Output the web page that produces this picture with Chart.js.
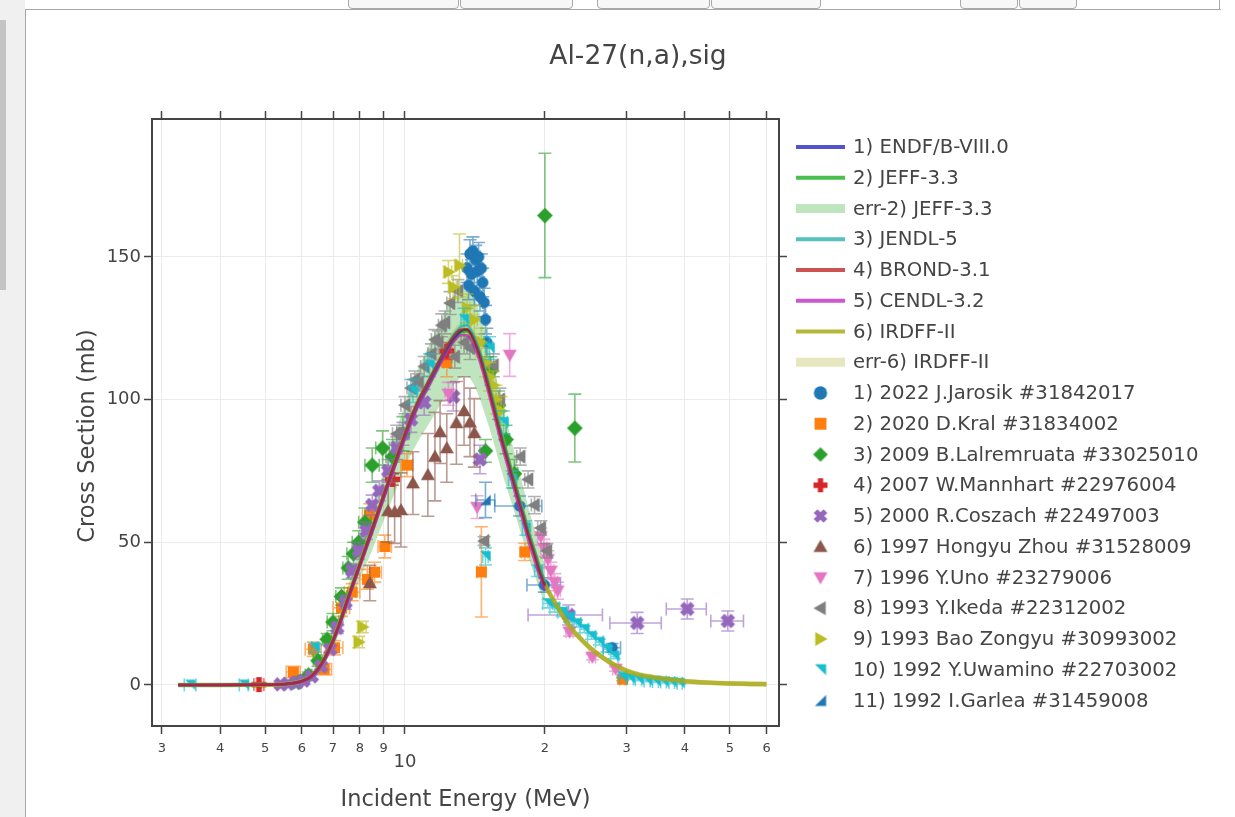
<!DOCTYPE html>
<html>
<head>
<meta charset="utf-8">
<title>Al-27(n,a),sig</title>
<script src="https://cdn.jsdelivr.net/npm/chart.js@4.4.1/dist/chart.umd.min.js"></script>
<style>
  html, body { margin: 0; padding: 0; width: 1235px; height: 817px; overflow: hidden; background: #fff; }
  #side { position: absolute; left: 0; top: 0; width: 25px; height: 817px; background: #f0f0f0; }
  #thumb { position: absolute; left: 0; top: 20px; width: 6px; height: 270px; background: #c4c4c4; }
  #panel { position: absolute; left: 25px; top: 9px; width: 1195px; height: 808px; border-left: 1px solid #a8a8a8; border-top: 1px solid #a8a8a8; background: #fff; }
  #rightEdge { position: absolute; left: 1219px; top: 0; width: 1px; height: 10px; background: #a8a8a8; }
  .btn { position: absolute; top: -14px; height: 21px; border: 1px solid #a8a8a8; border-radius: 4px; background: #f7f7f7; }
  #chart { position: absolute; left: 0; top: 0; }
</style>
</head>
<body>
<div id="side"><div id="thumb"></div></div>
<div id="panel"></div>
<div class="btn" style="left:348px;width:109px"></div>
<div class="btn" style="left:460px;width:111px"></div>
<div class="btn" style="left:597px;width:111px"></div>
<div class="btn" style="left:711px;width:108px"></div>
<div class="btn" style="left:960px;width:56px"></div>
<div class="btn" style="left:1019px;width:56px"></div>
<div id="rightEdge"></div>
<canvas id="chart" width="1235" height="817"></canvas>
<script>
// ---------------- evaluated libraries (E in MeV, cross section in mb) ----------------
const libE = [3.25, 4.0, 5.0, 5.5, 6.0, 6.3, 6.6, 6.9, 7.2, 7.5, 7.8, 8.1, 8.5, 8.9, 9.3, 9.7, 10.2, 10.7, 11.2, 11.7,
              12.2, 12.7, 13.2, 13.6, 14.0, 14.5, 15.0, 15.5, 16.0, 16.5, 17.0, 17.5, 18.0, 18.5, 19.0, 19.5, 20.0];
const endfSig  = [0, 0, 0.03, 0.25, 1.3, 3.0, 7.0, 13.0, 20.5, 29.0, 37.0, 44.5, 54.0, 63.5, 72.5, 81.0, 91.0, 99.0, 105.0, 111.0,
                  116.5, 121.0, 124.0, 124.5, 122.0, 115.5, 107.0, 98.0, 89.0, 81.0, 73.5, 66.0, 59.0, 52.0, 46.0, 40.0, 35.0];
const jeffSig  = [0, 0, 0.02, 0.2, 1.2, 2.8, 6.8, 12.8, 20.5, 29.2, 37.5, 45.0, 54.5, 64.0, 73.0, 81.5, 91.0, 98.5, 104.5, 110.5,
                  116.0, 120.5, 123.5, 124.0, 121.5, 115.0, 107.0, 98.5, 89.5, 81.5, 74.0, 66.5, 59.5, 52.5, 46.5, 40.5, 35.5];
const jeffErr  = [0, 0, 0.01, 0.05, 0.3, 0.6, 1.2, 2.0, 3.0, 4.0, 5.0, 6.0, 7.2, 8.4, 9.5, 10.5, 11.8, 12.8, 13.6, 14.4,
                  15.0, 15.5, 15.8, 15.8, 15.6, 15.0, 14.2, 13.3, 12.4, 11.6, 10.8, 10.0, 9.3, 8.6, 8.0, 7.4, 6.8];
const jendlSig = [0, 0, 0.03, 0.25, 1.4, 3.2, 7.2, 13.3, 21.0, 29.5, 37.5, 45.0, 54.5, 64.0, 73.0, 81.5, 91.5, 99.5, 106.0, 112.0,
                  117.5, 122.5, 125.5, 126.0, 123.0, 116.5, 108.0, 99.0, 90.0, 82.0, 74.5, 67.0, 60.0, 53.0, 47.0, 41.0, 36.0];
const brondSig = [0, 0, 0.03, 0.3, 1.4, 3.3, 7.4, 13.5, 21.0, 29.5, 37.5, 45.0, 55.0, 64.5, 73.5, 82.0, 92.0, 100.0, 106.0, 112.0,
                  117.5, 122.0, 124.5, 124.5, 121.5, 115.0, 106.5, 97.5, 88.5, 80.5, 73.0, 65.5, 58.5, 51.5, 45.5, 39.5, 34.5];
const cendlSig = [0, 0, 0.02, 0.2, 1.1, 2.7, 6.5, 12.5, 20.0, 28.5, 36.5, 44.0, 53.5, 63.0, 72.0, 80.5, 90.0, 98.0, 104.0, 110.0,
                  115.5, 120.0, 122.5, 122.5, 119.5, 113.0, 104.5, 95.5, 86.5, 78.5, 71.0, 63.5, 56.5, 49.5, 43.5, 38.0, 33.0];
const irdffE   = [3.25, 4.0, 5.0, 5.5, 6.0, 6.3, 6.6, 6.9, 7.2, 7.5, 7.8, 8.1, 8.5, 8.9, 9.3, 9.7, 10.2, 10.7, 11.2, 11.7,
                  12.2, 12.7, 13.2, 13.6, 14.0, 14.5, 15.0, 15.5, 16.0, 16.5, 17.0, 17.5, 18.0, 18.5, 19.0, 19.5, 20.0,
                  21, 22, 23, 24, 25, 26.5, 28, 30, 32, 35, 40, 45, 50, 55, 60];
const irdffSig = [0, 0, 0.03, 0.25, 1.3, 3.0, 7.0, 13.0, 20.7, 29.2, 37.3, 44.8, 54.3, 63.8, 72.8, 81.3, 91.2, 99.2, 105.2, 111.2,
                  116.7, 121.2, 124.0, 124.3, 121.8, 115.5, 107.2, 98.3, 89.5, 81.5, 74.0, 66.5, 59.5, 52.5, 46.5, 40.5, 35.2,
                  29.0, 23.5, 19.0, 15.8, 13.0, 9.8, 7.3, 4.9, 3.5, 2.4, 1.3, 0.8, 0.5, 0.35, 0.25];
const irdffErr = [0, 0, 0.01, 0.05, 0.15, 0.3, 0.5, 0.7, 0.9, 1.1, 1.3, 1.5, 1.7, 1.9, 2.1, 2.3, 2.5, 2.6, 2.7, 2.8,
                  2.9, 3.0, 3.0, 3.0, 3.0, 2.9, 2.7, 2.5, 2.3, 2.1, 1.9, 1.8, 1.7, 1.6, 1.5, 1.4, 1.4,
                  1.3, 1.3, 1.2, 1.2, 1.2, 1.1, 1.1, 1.0, 1.0, 1.0, 0.9, 0.9, 0.9, 0.9, 0.9];

// ---------------- EXFOR measurements: energy, cross section, dSig, dE ----------------
const jarosikE  = [13.6, 13.7, 13.8, 13.9, 14.0, 14.1, 14.2, 14.3, 14.4, 14.5, 14.6, 14.7, 14.8, 14.9, 15.0, 17.65, 19.95, 27.9];
const jarosikS  = [146, 140, 151, 144, 152, 138, 149, 145, 150, 136, 146, 141, 134, 128, 120, 62.7, 35.0, 13.0];
const jarosikDS = [5, 5, 5, 5, 5, 5, 5, 5, 5, 5, 5, 5, 5, 5, 5, 3.5, 2.5, 1.5];
const jarosikDE = [0.1, 0.1, 0.1, 0.1, 0.1, 0.1, 0.1, 0.1, 0.1, 0.1, 0.1, 0.1, 0.1, 0.1, 0.1, 2.05, 1.65, 1.2];

const kralE  = [5.75, 6.35, 6.7, 7.05, 7.3, 7.7, 8.3, 8.4, 8.6, 9.05, 10.1, 12.3, 14.6, 18.1, 29.4];
const kralS  = [4.5, 12.5, 5.5, 13.0, 27.0, 32.5, 37.0, 59.5, 39.5, 48.5, 77.0, 113, 39.6, 46.6, 2.0];
const kralDS = [2, 2.5, 2, 2.5, 3, 3, 3.5, 4, 3.5, 4, 4, 5, 15.8, 3, 0.5];
const kralDE = [0.2, 0.25, 0.25, 0.3, 0.3, 0.3, 0.3, 0.3, 0.3, 0.3, 0.3, 0.2, 0.3, 0.3, 0.4];

const lalE  = [5.9, 6.2, 6.5, 6.8, 7.0, 7.3, 7.55, 7.75, 7.95, 8.2, 8.5, 8.95, 9.4, 9.9, 14.9, 15.3, 15.9, 16.5, 17.2, 20.0, 23.2];
const lalS  = [1.0, 3.5, 8.5, 16, 22, 31, 41, 46, 50, 57, 77, 83, 80, 88, 82, 110, 98, 86, 74, 164.5, 90];
const lalDS = [1, 1, 2, 2, 3, 3, 4, 4, 4, 5, 6, 6, 6, 6, 4, 5, 5, 5, 5, 21.8, 11.9];
const lalDE = [0.1, 0.1, 0.15, 0.15, 0.2, 0.2, 0.2, 0.25, 0.25, 0.25, 0.3, 0.3, 0.3, 0.3, 0, 0.3, 0.3, 0.3, 0.3, 0, 0];

const mannE  = [4.85, 9.4, 12.3];
const mannS  = [0.1, 72, 117];
const mannDS = [0.5, 2, 3];
const mannDE = [0.12, 0, 0];

const coszE  = [5.4, 5.6, 5.85, 6.05, 6.3, 6.6, 6.9, 7.15, 7.45, 7.7, 7.95, 8.25, 8.5, 8.8, 9.2, 9.6, 9.9, 10.3, 11.0,
                12.7, 14.5, 22.5, 31.6, 40.5, 49.5];
const coszS  = [0.2, 0.4, 0.8, 1.5, 3.0, 6.5, 12.5, 20, 29, 40, 47, 54, 63, 68, 75, 83, 88, 93, 99,
                101, 79, 24.5, 21.7, 26.6, 22.4];
const coszDS = [0.5, 0.5, 0.5, 0.6, 0.8, 1, 1.5, 2, 2.5, 2.5, 3, 3, 3.5, 3.5, 4, 4, 4, 4.5, 4.5,
                5, 5, 3.5, 3.7, 3.5, 3.5];
const coszDE = [0.1, 0.1, 0.1, 0.1, 0.1, 0.1, 0.12, 0.12, 0.15, 0.15, 0.15, 0.15, 0.15, 0.15, 0.2, 0.2, 0.2, 0.2, 0.2,
                0.2, 0.2, 4.1, 4.0, 4.0, 4.0];

const zhouE  = [8.4, 9.2, 9.5, 9.8, 10.4, 11.2, 11.6, 11.9, 12.3, 12.9, 13.4, 13.8, 14.1];
const zhouS  = [35.7, 61, 60.6, 61.3, 70.7, 73.6, 80, 88.6, 83, 91.8, 96, 92, 88.3];
const zhouDS = [6.2, 11, 11, 13, 11, 14.5, 15.5, 11, 12, 14.5, 12, 12, 12];
const zhouDE = [0, 0, 0, 0, 0, 0, 0, 0, 0, 0, 0, 0, 0];

const unoE  = [12.4, 14.3, 16.8, 19.6, 19.9, 20.3, 20.6, 21.0, 21.3, 22.6, 25.3, 28.4];
const unoS  = [102, 62.3, 115.6, 52, 48, 44, 40, 36, 33, 18.6, 9.8, 5.6];
const unoDS = [4, 4, 7.5, 3, 3, 3, 3, 3, 3, 1.5, 1, 0.8];
const unoDE = [0.2, 0, 0, 0.3, 0.3, 0.3, 0.3, 0.3, 0.3, 0.4, 0.4, 0.4];

const ikedaE  = [9.6, 10.0, 10.3, 10.5, 10.7, 11.0, 11.4, 11.6, 11.8, 12.0, 12.2, 12.5, 12.8, 13.0, 13.4, 13.8,
                 14.8, 15.5, 16.0, 17.7, 18.4, 19.0, 19.6, 20.2];
const ikedaS  = [88, 98, 104, 107, 106, 111.6, 116, 121, 120, 126, 127, 133.8, 115, 138, 120, 118,
                 50.4, 112, 100, 80, 72, 63, 55, 47];
const ikedaDS = [3, 3, 3, 3, 3, 3.5, 3.5, 3.5, 4, 4, 4, 4, 4, 4, 4, 4,
                 1.5, 4, 4, 3, 3, 3, 2.5, 2.5];
const ikedaDE = [0.2, 0.2, 0.2, 0.2, 0.2, 0.2, 0.2, 0.2, 0.2, 0.2, 0.2, 0.2, 0.2, 0.2, 0.2, 0.2,
                 0.3, 0.3, 0.3, 0.3, 0.3, 0.3, 0.3, 0.3];

const baoE  = [7.95, 8.1, 12.4, 12.7, 13.1, 13.6, 14.1, 14.6, 14.9, 15.2, 15.5, 15.7, 16.1];
const baoS  = [15, 20.3, 144.7, 139.4, 147, 132, 128, 120, 113, 108, 105, 100, 96];
const baoDS = [2, 2, 4, 4, 11, 5, 5, 5, 5, 5, 5, 5, 5];
const baoDE = [0.15, 0.15, 0.2, 0.2, 0.2, 0.2, 0.2, 0.2, 0.2, 0.2, 0.2, 0.2, 0.2];

const uwaE  = [3.45, 4.5, 6.4, 10.4, 11.3, 13.4, 14.9, 15.2, 16.3, 17.0, 18.2, 19.3, 20.3, 21.0, 21.8, 22.6, 23.4, 24.3,
               25.2, 26.2, 27.2, 28.2, 29.4, 30.5, 31.8, 33.2, 34.6, 36.0, 37.5, 39.0];
const uwaS  = [0, 0, 13, 103, 112, 128, 45, 118, 92, 72, 55, 40, 28.5, 27, 25.5, 23.5, 21.5, 19.5,
               17, 15, 12.5, 10, 2.8, 2.2, 1.8, 1.4, 1.2, 1.0, 0.8, 0.6];
const uwaDS = [0.3, 0.3, 1.5, 4, 4, 4, 3, 4, 4, 3, 2.5, 2, 1.5, 1.5, 1.5, 1.5, 1.2, 1.2,
               1, 1, 1, 0.8, 0.3, 0.3, 0.3, 0.3, 0.3, 0.3, 0.3, 0.3];
const uwaDE = [0.1, 0.1, 0.1, 0.2, 0.2, 0.2, 0.2, 0.3, 0.3, 0.3, 0.3, 0.3, 0.5, 0.5, 0.5, 0.5, 0.5, 0.5,
               0.5, 0.5, 0.5, 0.5, 0.5, 0.5, 0.5, 0.5, 0.5, 0.5, 0.5, 0.5];

const garE  = [14.9];
const garS  = [64.8];
const garDS = [6.2];
const garDE = [0.7];

// ---------------- axes ----------------
const xTickValues = [3, 4, 5, 6, 7, 8, 9, 10, 20, 30, 40, 50, 60];
const xTickLabels = ['3', '4', '5', '6', '7', '8', '9', '10', '2', '3', '4', '5', '6'];
const xMajorTicks = [10];
const yTickValues = [0, 50, 100, 150];

// ---------------- styling ----------------
const FONT = '"DejaVu Sans", Verdana, sans-serif';
const TEXT = '#444';

function rgba(hex, a) {
  const n = parseInt(hex.slice(1), 16);
  return `rgba(${(n >> 16) & 255},${(n >> 8) & 255},${n & 255},${a})`;
}

// Plotly-like marker glyphs rendered once into small canvases
function markerCanvas(shape, color, size) {
  const n = Math.ceil(size + 4);
  const cv = document.createElement('canvas');
  cv.width = n; cv.height = n;
  const g = cv.getContext('2d');
  const c = n / 2, r = size / 2;
  g.fillStyle = color;
  g.beginPath();
  const poly = pts => { g.moveTo(c + pts[0][0], c + pts[0][1]); pts.slice(1).forEach(p => g.lineTo(c + p[0], c + p[1])); g.closePath(); };
  const plus = (rot) => {
    const w = r * 0.38, a = r;
    const base = [[-w, -a], [w, -a], [w, -w], [a, -w], [a, w], [w, w], [w, a], [-w, a], [-w, w], [-a, w], [-a, -w], [-w, -w]];
    const cs = Math.cos(rot), sn = Math.sin(rot);
    poly(base.map(([x, y]) => [x * cs - y * sn, x * sn + y * cs]));
  };
  switch (shape) {
    case 'circle': g.arc(c, c, r * 0.95, 0, Math.PI * 2); break;
    case 'square': poly([[-r * 0.85, -r * 0.85], [r * 0.85, -r * 0.85], [r * 0.85, r * 0.85], [-r * 0.85, r * 0.85]]); break;
    case 'diamond': poly([[0, -r * 1.05], [r * 1.05, 0], [0, r * 1.05], [-r * 1.05, 0]]); break;
    case 'cross': plus(0); break;
    case 'x': plus(Math.PI / 4); break;
    case 'triangle-up': poly([[0, -r], [r, r * 0.75], [-r, r * 0.75]]); break;
    case 'triangle-down': poly([[0, r], [r, -r * 0.75], [-r, -r * 0.75]]); break;
    case 'triangle-left': poly([[-r, 0], [r * 0.75, -r], [r * 0.75, r]]); break;
    case 'triangle-right': poly([[r, 0], [-r * 0.75, -r], [-r * 0.75, r]]); break;
    case 'triangle-ne': poly([[-r * 0.8, -r * 0.8], [r * 0.8, -r * 0.8], [r * 0.8, r * 0.8]]); break;
    case 'triangle-se': poly([[r * 0.8, -r * 0.8], [r * 0.8, r * 0.8], [-r * 0.8, r * 0.8]]); break;
  }
  g.fill();
  return cv;
}

const libraries = [
  { label: '4) BROND-3.1',    rank: 4, e: libE,   s: brondSig, color: 'rgba(185,25,25,0.7)',  width: 2.5, legendColor: 'rgba(185,25,25,0.75)' },
  { label: '5) CENDL-3.2',    rank: 5, e: libE,   s: cendlSig, color: 'rgba(190,30,190,0.7)', width: 2.5, legendColor: 'rgba(190,30,190,0.75)' },
  { label: '3) JENDL-5',      rank: 3, e: libE,   s: jendlSig, color: 'rgba(30,170,170,0.7)', width: 2.5, legendColor: 'rgba(30,170,170,0.75)' },
  { label: '1) ENDF/B-VIII.0', rank: 0, e: libE,  s: endfSig,  color: 'rgba(25,25,185,0.7)',  width: 2.5, legendColor: 'rgba(25,25,185,0.75)' },
  { label: '2) JEFF-3.3',     rank: 1, e: libE,   s: jeffSig,  color: 'rgba(30,175,30,0.75)', width: 3,   legendColor: 'rgba(30,175,30,0.8)' },
  { label: '6) IRDFF-II',     rank: 6, e: irdffE, s: irdffSig, color: 'rgba(170,170,25,0.85)', width: 4.5, legendColor: 'rgba(170,170,25,0.85)' }
];

const bands = [
  { label: 'err-2) JEFF-3.3', rank: 2, e: libE,   s: jeffSig,  err: jeffErr,  color: 'rgba(44,170,44,0.3)' },
  { label: 'err-6) IRDFF-II', rank: 7, e: irdffE, s: irdffSig, err: irdffErr, color: 'rgba(170,170,25,0.28)' }
];

const experiments = [
  { label: '1) 2022 J.Jarosik #31842017',      e: jarosikE, s: jarosikS, ds: jarosikDS, de: jarosikDE, color: '#1f77b4', shape: 'circle', size: 12 },
  { label: '2) 2020 D.Kral #31834002',         e: kralE,    s: kralS,    ds: kralDS,    de: kralDE,    color: '#ff7f0e', shape: 'square', size: 13 },
  { label: '3) 2009 B.Lalremruata #33025010',  e: lalE,     s: lalS,     ds: lalDS,     de: lalDE,     color: '#2ca02c', shape: 'diamond', size: 15 },
  { label: '4) 2007 W.Mannhart #22976004',     e: mannE,    s: mannS,    ds: mannDS,    de: mannDE,    color: '#d62728', shape: 'cross', size: 15 },
  { label: '5) 2000 R.Coszach #22497003',      e: coszE,    s: coszS,    ds: coszDS,    de: coszDE,    color: '#9467bd', shape: 'x', size: 15 },
  { label: '6) 1997 Hongyu Zhou #31528009',    e: zhouE,    s: zhouS,    ds: zhouDS,    de: zhouDE,    color: '#8c564b', shape: 'triangle-up', size: 14 },
  { label: '7) 1996 Y.Uno #23279006',          e: unoE,     s: unoS,     ds: unoDS,     de: unoDE,     color: '#e377c2', shape: 'triangle-down', size: 14 },
  { label: '8) 1993 Y.Ikeda #22312002',        e: ikedaE,   s: ikedaS,   ds: ikedaDS,   de: ikedaDE,   color: '#7f7f7f', shape: 'triangle-left', size: 14 },
  { label: '9) 1993 Bao Zongyu #30993002',     e: baoE,     s: baoS,     ds: baoDS,     de: baoDE,     color: '#bcbd22', shape: 'triangle-right', size: 14 },
  { label: '10) 1992 Y.Uwamino #22703002',     e: uwaE,     s: uwaS,     ds: uwaDS,     de: uwaDE,     color: '#17becf', shape: 'triangle-ne', size: 13 },
  { label: '11) 1992 I.Garlea #31459008',      e: garE,     s: garS,     ds: garDS,     de: garDE,     color: '#1f77b4', shape: 'triangle-se', size: 13 }
];

const toPoints = (xs, ys) => xs.map((x, i) => ({ x, y: ys[i] }));

// first dataset is drawn on top: curves, then measurements, then uncertainty bands
const datasets = [];
libraries.forEach(l => datasets.push({
  type: 'line', label: l.label, legendRank: l.rank, legendKind: 'line', legendColor: l.legendColor,
  data: toPoints(l.e, l.s), borderColor: l.color, borderWidth: l.width, pointRadius: 0,
  fill: false, cubicInterpolationMode: 'monotone'
}));
experiments.slice().reverse().forEach(x => {
  datasets.push({
    type: 'scatter', label: x.label, legendRank: 8 + experiments.indexOf(x), legendKind: 'marker',
    legendGlyph: markerCanvas(x.shape, x.color, 14),
    data: toPoints(x.e, x.s), errY: x.ds, errX: x.de, errColor: rgba(x.color, 0.6),
    pointStyle: markerCanvas(x.shape, x.color, x.size), pointRadius: 6, showLine: false
  });
});
bands.forEach(b => {
  datasets.push({
    type: 'line', label: b.label, legendRank: b.rank, legendKind: 'band', legendColor: b.color,
    data: toPoints(b.e, b.s.map((v, i) => v + b.err[i])), borderWidth: 0, pointRadius: 0,
    backgroundColor: b.color, fill: '+1', cubicInterpolationMode: 'monotone'
  });
  datasets.push({
    type: 'line', label: b.label + ' (low)',
    data: toPoints(b.e, b.s.map((v, i) => v - b.err[i])), borderWidth: 0, pointRadius: 0,
    fill: false, cubicInterpolationMode: 'monotone'
  });
});

// error bars, drawn just below each measurement set's markers
const errorBars = {
  id: 'errorBars',
  beforeDatasetDraw(chart, args, opts) {
    const ds = chart.data.datasets[args.index];
    if (!ds.errY) return;
    const xs = chart.scales.x, ys = chart.scales.y, c = chart.ctx, a = chart.chartArea;
    const cap = opts.cap;
    c.save();
    c.beginPath(); c.rect(a.left, a.top, a.right - a.left, a.bottom - a.top); c.clip();
    c.strokeStyle = ds.errColor; c.lineWidth = opts.width;
    c.beginPath();
    ds.data.forEach((p, i) => {
      const px = xs.getPixelForValue(p.x), py = ys.getPixelForValue(p.y);
      const dy = ds.errY[i], dx = ds.errX ? ds.errX[i] : 0;
      if (dy > 0) {
        const y1 = ys.getPixelForValue(p.y + dy), y2 = ys.getPixelForValue(p.y - dy);
        c.moveTo(px, y1); c.lineTo(px, y2);
        c.moveTo(px - cap, y1); c.lineTo(px + cap, y1);
        c.moveTo(px - cap, y2); c.lineTo(px + cap, y2);
      }
      if (dx > 0) {
        const x1 = xs.getPixelForValue(p.x - dx), x2 = xs.getPixelForValue(p.x + dx);
        c.moveTo(x1, py); c.lineTo(x2, py);
        c.moveTo(x1, py - cap); c.lineTo(x1, py + cap);
        c.moveTo(x2, py - cap); c.lineTo(x2, py + cap);
      }
    });
    c.stroke();
    c.restore();
  }
};

// legend column on the right
const sideLegend = {
  id: 'sideLegend',
  afterDraw(chart, args, o) {
    const c = chart.ctx;
    const items = chart.data.datasets.filter(d => d.legendRank !== undefined)
      .sort((a, b) => a.legendRank - b.legendRank);
    c.save();
    c.font = `${o.fontSize}px ${FONT}`;
    c.fillStyle = TEXT;
    c.textAlign = 'left';
    c.textBaseline = 'middle';
    items.forEach((d, i) => {
      const y = o.top + i * o.step;
      if (d.legendKind === 'line') {
        c.strokeStyle = d.legendColor; c.lineWidth = 4;
        c.beginPath(); c.moveTo(o.iconX, y); c.lineTo(o.iconX + o.iconW, y); c.stroke();
      } else if (d.legendKind === 'band') {
        c.fillStyle = d.legendColor;
        c.fillRect(o.iconX, y - 4.5, o.iconW, 9);
        c.fillStyle = TEXT;
      } else {
        const g = d.legendGlyph;
        c.drawImage(g, o.iconX + o.iconW / 2 - g.width / 2, y - g.height / 2);
      }
      c.fillText(d.label, o.textX, y + 1);
    });
    c.restore();
  }
};

// title, axis titles and log-axis labels
const textLayer = {
  id: 'textLayer',
  afterDraw(chart, args, o) {
    const c = chart.ctx, xs = chart.scales.x;
    c.save();
    c.fillStyle = TEXT;
    c.textAlign = 'center';
    c.textBaseline = 'middle';
    c.font = `${o.titleSize}px ${FONT}`;
    c.fillText(o.title, o.titleX, o.titleY);
    xTickValues.forEach((v, i) => {
      const major = xMajorTicks.includes(v);
      c.font = `${major ? o.majorSize : o.minorSize}px ${FONT}`;
      c.fillText(xTickLabels[i], xs.getPixelForValue(v), major ? o.majorY : o.minorY);
    });
    c.font = `${o.axisSize}px ${FONT}`;
    c.fillText(o.xTitle, (xs.left + xs.right) / 2, o.xTitleY);
    c.translate(o.yTitleX, o.yTitleY);
    c.rotate(-Math.PI / 2);
    c.fillText(o.yTitle, 0, 0);
    c.restore();
  }
};

const X_MIN = 2.855, X_MAX = 63.8, Y_MIN = -14.4, Y_MAX = 198.3;
const PLOT = { left: 152, right: 779, top: 119, bottom: 726, width: 1235, height: 817 };

const gridStyle = { color: '#ebebeb', lineWidth: 1, tickLength: 8, tickColor: '#444', tickWidth: 1.5 };
const borderStyle = { display: true, color: '#444', width: 2 };

Chart.defaults.font.family = FONT;

new Chart(document.getElementById('chart'), {
  type: 'scatter',
  data: { datasets },
  options: {
    responsive: false,
    animation: false,
    devicePixelRatio: 1,
    layout: { padding: 0 },
    plugins: {
      legend: { display: false },
      title: { display: false },
      tooltip: { enabled: false },
      errorBars: { cap: 6.5, width: 1.6 },
      sideLegend: { top: 147, step: 30.75, iconX: 796, iconW: 49, textX: 853, fontSize: 19.7 },
      textLayer: {
        title: 'Al-27(n,a),sig', titleX: 638, titleY: 57, titleSize: 26.5,
        xTitle: 'Incident Energy (MeV)', xTitleY: 800,
        yTitle: 'Cross Section (mb)', yTitleX: 88, yTitleY: 436, axisSize: 22.5,
        minorSize: 13, minorY: 749, majorSize: 18, majorY: 762
      }
    },
    scales: {
      x: {
        type: 'logarithmic', position: 'bottom', min: X_MIN, max: X_MAX,
        afterBuildTicks: s => { s.ticks = xTickValues.map(v => ({ value: v })); },
        ticks: { display: false },
        grid: gridStyle, border: borderStyle,
        afterFit: s => { s.height = PLOT.height - PLOT.bottom; }
      },
      x2: {
        type: 'logarithmic', position: 'top', min: X_MIN, max: X_MAX,
        afterBuildTicks: s => { s.ticks = xTickValues.map(v => ({ value: v })); },
        ticks: { display: false },
        grid: Object.assign({}, gridStyle, { drawOnChartArea: false }), border: borderStyle,
        afterFit: s => { s.height = PLOT.top; }
      },
      y: {
        type: 'linear', position: 'left', min: Y_MIN, max: Y_MAX,
        afterBuildTicks: s => { s.ticks = yTickValues.map(v => ({ value: v })); },
        ticks: { color: TEXT, font: { size: 18, family: FONT }, padding: 3 },
        grid: gridStyle, border: borderStyle,
        afterFit: s => { s.width = PLOT.left; }
      },
      y2: {
        type: 'linear', position: 'right', min: Y_MIN, max: Y_MAX,
        afterBuildTicks: s => { s.ticks = yTickValues.map(v => ({ value: v })); },
        ticks: { display: false },
        grid: Object.assign({}, gridStyle, { drawOnChartArea: false }), border: borderStyle,
        afterFit: s => { s.width = PLOT.width - PLOT.right; }
      }
    }
  },
  plugins: [errorBars, sideLegend, textLayer]
});
</script>
</body>
</html>
